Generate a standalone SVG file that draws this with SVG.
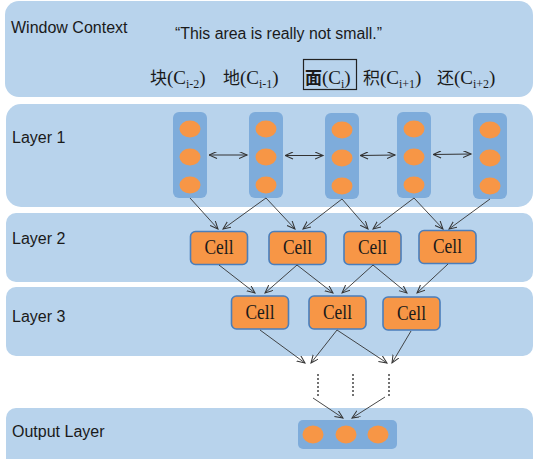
<svg xmlns="http://www.w3.org/2000/svg" width="534" height="459" viewBox="0 0 534 459">
<defs>
<style>
.band{fill:#b8d3ec}
.col{fill:#7eacdb}
.dot{fill:#f79646}
.cell rect{fill:#f79646;stroke:#4a7ebb;stroke-width:1.6}
.cell text{font-family:"Liberation Serif",serif;font-size:20px;fill:#1a1a1a;text-anchor:middle}
.lbl{font-family:"Liberation Sans",sans-serif;font-size:16px;fill:#1a1a1a}
.ch{font-family:"Liberation Serif","Noto Sans CJK SC",serif;font-size:19px;fill:#1a1a1a}
.cjk{font-family:"Noto Sans CJK SC",sans-serif;font-size:17px}
.sub{font-size:12px}
.conn line{stroke:#333;stroke-width:0.9;marker-end:url(#ah)}
.bi line{stroke:#333;stroke-width:1.1;marker-end:url(#ah2);marker-start:url(#ah2s)}
.dots line{stroke:#444;stroke-width:1.5;stroke-dasharray:2,2}
</style>
<marker id="ah" markerWidth="10" markerHeight="8" refX="8" refY="3.5" orient="auto" markerUnits="userSpaceOnUse">
<path d="M0,0 L8,3.5 L0,7" fill="none" stroke="#333" stroke-width="1"/>
</marker>
<marker id="ah2" markerWidth="10" markerHeight="8" refX="8" refY="3.5" orient="auto" markerUnits="userSpaceOnUse">
<path d="M0,0 L8,3.5 L0,7" fill="none" stroke="#333" stroke-width="1.1"/>
</marker>
<marker id="ah2s" markerWidth="10" markerHeight="8" refX="0" refY="3.5" orient="auto" markerUnits="userSpaceOnUse">
<path d="M8,0 L0,3.5 L8,7" fill="none" stroke="#333" stroke-width="1.1"/>
</marker>
</defs>

<g id="band-window">
<rect class="band" x="5" y="1" width="528" height="96" rx="14"/>
<text class="lbl" x="11" y="33">Window Context</text>
<text class="lbl" x="175" y="39" textLength="207" lengthAdjust="spacingAndGlyphs">“This area is really not small.”</text>
<text class="ch" x="150" y="84"><tspan class="cjk">块</tspan>(C<tspan class="sub" dy="4">i-2</tspan><tspan dy="-4">)</tspan></text>
<text class="ch" x="223" y="84"><tspan class="cjk">地</tspan>(C<tspan class="sub" dy="4">i-1</tspan><tspan dy="-4">)</tspan></text>
<rect x="303.5" y="59.5" width="53" height="30" fill="none" stroke="#222" stroke-width="1.2"/>
<text class="ch" x="305" y="84"><tspan class="cjk" font-weight="bold">面</tspan>(C<tspan class="sub" dy="4">i</tspan><tspan dy="-4">)</tspan></text>
<text class="ch" x="363" y="84"><tspan class="cjk">积</tspan>(C<tspan class="sub" dy="4">i+1</tspan><tspan dy="-4">)</tspan></text>
<text class="ch" x="437" y="84"><tspan class="cjk">还</tspan>(C<tspan class="sub" dy="4">i+2</tspan><tspan dy="-4">)</tspan></text>
</g>

<g id="band-layer1">
<rect class="band" x="6" y="104" width="527" height="103" rx="15"/>
<text class="lbl" x="12" y="143">Layer 1</text>
</g>
<g id="band-layer2">
<rect class="band" x="6" y="213" width="527" height="69" rx="10"/>
<text class="lbl" x="12" y="244">Layer 2</text>
</g>
<g id="band-layer3">
<rect class="band" x="6" y="287" width="527" height="69" rx="10"/>
<text class="lbl" x="12" y="322">Layer 3</text>
</g>
<g id="band-output">
<rect class="band" x="6" y="408" width="527" height="62" rx="10"/>
<text class="lbl" x="12" y="437">Output Layer</text>
</g>

<g id="l1-c1"><rect class="col" x="173" y="112" width="34" height="86" rx="6"/><ellipse class="dot" cx="190" cy="129" rx="10.5" ry="8.5"/><ellipse class="dot" cx="190" cy="157" rx="10.5" ry="8.5"/><ellipse class="dot" cx="190" cy="185" rx="10.5" ry="8.5"/></g>
<g id="l1-c2"><rect class="col" x="249" y="112" width="34" height="86" rx="6"/><ellipse class="dot" cx="266" cy="129" rx="10.5" ry="8.5"/><ellipse class="dot" cx="266" cy="157" rx="10.5" ry="8.5"/><ellipse class="dot" cx="266" cy="185" rx="10.5" ry="8.5"/></g>
<g id="l1-c3"><rect class="col" x="325" y="113" width="34" height="86" rx="6"/><ellipse class="dot" cx="342" cy="130" rx="10.5" ry="8.5"/><ellipse class="dot" cx="342" cy="158" rx="10.5" ry="8.5"/><ellipse class="dot" cx="342" cy="186" rx="10.5" ry="8.5"/></g>
<g id="l1-c4"><rect class="col" x="397" y="112" width="34" height="86" rx="6"/><ellipse class="dot" cx="414" cy="129" rx="10.5" ry="8.5"/><ellipse class="dot" cx="414" cy="157" rx="10.5" ry="8.5"/><ellipse class="dot" cx="414" cy="185" rx="10.5" ry="8.5"/></g>
<g id="l1-c5"><rect class="col" x="473" y="113" width="34" height="86" rx="6"/><ellipse class="dot" cx="490" cy="130" rx="10.5" ry="8.5"/><ellipse class="dot" cx="490" cy="158" rx="10.5" ry="8.5"/><ellipse class="dot" cx="490" cy="186" rx="10.5" ry="8.5"/></g>

<g id="l2-c1" class="cell"><rect x="190.5" y="231.5" width="57" height="33" rx="5"/><text x="219" y="254" textLength="29" lengthAdjust="spacingAndGlyphs">Cell</text></g>
<g id="l2-c2" class="cell"><rect x="269" y="231.5" width="57" height="33" rx="5"/><text x="297.5" y="254" textLength="29" lengthAdjust="spacingAndGlyphs">Cell</text></g>
<g id="l2-c3" class="cell"><rect x="344" y="231.5" width="57" height="33" rx="5"/><text x="372.5" y="254" textLength="29" lengthAdjust="spacingAndGlyphs">Cell</text></g>
<g id="l2-c4" class="cell"><rect x="419" y="230.5" width="57" height="33" rx="5"/><text x="447.5" y="253" textLength="29" lengthAdjust="spacingAndGlyphs">Cell</text></g>

<g id="l3-c1" class="cell"><rect x="231.5" y="296" width="57" height="33" rx="5"/><text x="260" y="318.5" textLength="29" lengthAdjust="spacingAndGlyphs">Cell</text></g>
<g id="l3-c2" class="cell"><rect x="309" y="296" width="57" height="33" rx="5"/><text x="337.5" y="318.5" textLength="29" lengthAdjust="spacingAndGlyphs">Cell</text></g>
<g id="l3-c3" class="cell"><rect x="383" y="297" width="57" height="33" rx="5"/><text x="411.5" y="319.5" textLength="29" lengthAdjust="spacingAndGlyphs">Cell</text></g>

<g id="output">
<rect class="col" x="298" y="420" width="99" height="29" rx="5"/>
<ellipse class="dot" cx="313" cy="434.5" rx="10.5" ry="9"/>
<ellipse class="dot" cx="346" cy="434.5" rx="10.5" ry="9"/>
<ellipse class="dot" cx="378" cy="434.5" rx="10.5" ry="9"/>
</g>

<g id="connectors">
<g class="bi">
<line x1="209" y1="155" x2="247" y2="155"/>
<line x1="285" y1="155.5" x2="323" y2="155.5"/>
<line x1="360" y1="155.5" x2="395" y2="155"/>
<line x1="433" y1="154.5" x2="471" y2="154"/>
</g>
<g class="conn">
<line x1="190" y1="198" x2="218" y2="229"/>
<line x1="266" y1="198" x2="223" y2="229"/>
<line x1="266" y1="198" x2="295" y2="229"/>
<line x1="342" y1="199" x2="303" y2="229"/>
<line x1="342" y1="199" x2="368" y2="229"/>
<line x1="414" y1="198" x2="373" y2="229"/>
<line x1="414" y1="198" x2="443" y2="229"/>
<line x1="490" y1="199" x2="449" y2="229"/>
<line x1="219" y1="265" x2="255" y2="293"/>
<line x1="297" y1="265" x2="265" y2="293"/>
<line x1="297" y1="265" x2="333" y2="293"/>
<line x1="373" y1="265" x2="342" y2="293"/>
<line x1="373" y1="265" x2="407" y2="293"/>
<line x1="448" y1="264" x2="417" y2="293"/>
<line x1="260" y1="330" x2="305" y2="363"/>
<line x1="337" y1="330" x2="311" y2="363"/>
<line x1="337" y1="330" x2="387" y2="363"/>
<line x1="411" y1="331" x2="392" y2="363"/>
<line x1="313" y1="398" x2="343" y2="418"/>
<line x1="385" y1="397" x2="352" y2="418"/>
</g>
<g class="dots">
<line x1="318" y1="374" x2="318" y2="396"/>
<line x1="353" y1="374" x2="353" y2="396"/>
<line x1="389" y1="374" x2="389" y2="396"/>
</g>
</g>
</svg>
